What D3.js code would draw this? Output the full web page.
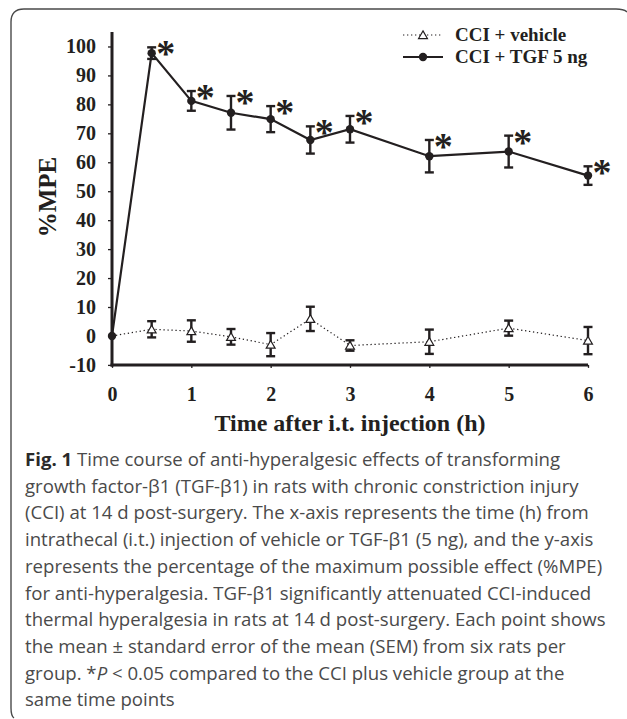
<!DOCTYPE html>
<html><head><meta charset="utf-8">
<script src="https://cdn.jsdelivr.net/npm/d3@7"></script>
<style>
body{margin:0;background:#fff;}
svg{display:block;}
</style></head><body>
<svg id="c" width="627" height="719"></svg>
<script>
const times = [0, 0.5, 1, 1.5, 2, 2.5, 3, 4, 5, 6];
const vehicleMean = [0, 2.3, 1.7, -0.3, -3.0, 5.9, -3.3, -2.0, 2.7, -1.6];
const vehicleSem  = [0, 2.8, 3.7, 2.7, 4.0, 4.2, 1.8, 4.2, 2.6, 4.7];
const tgfMean = [0, 97.7, 81.2, 77.1, 74.9, 67.7, 71.4, 62.1, 63.7, 55.4];
const tgfSem  = [0, 2.0, 3.4, 5.8, 4.5, 4.7, 4.6, 5.6, 5.5, 3.2];
const signif  = [false, true, true, true, true, true, true, true, true, true];
const xTicks = [0, 1, 2, 3, 4, 5, 6];
const yTicks = [-10, 0, 10, 20, 30, 40, 50, 60, 70, 80, 90, 100];
const legendLabels = ["CCI + vehicle", "CCI + TGF 5 ng"];
const captionBold = "Fig. 1";
const captionLines = [
 " Time course of anti-hyperalgesic effects of transforming",
 "growth factor-β1 (TGF-β1) in rats with chronic constriction injury",
 "(CCI) at 14 d post-surgery. The x-axis represents the time (h) from",
 "intrathecal (i.t.) injection of vehicle or TGF-β1 (5 ng), and the y-axis",
 "represents the percentage of the maximum possible effect (%MPE)",
 "for anti-hyperalgesia. TGF-β1 significantly attenuated CCI-induced",
 "thermal hyperalgesia in rats at 14 d post-surgery. Each point shows",
 "the mean ± standard error of the mean (SEM) from six rats per",
 "group. *P < 0.05 compared to the CCI plus vehicle group at the",
 "same time points"
];

const svg = d3.select("#c");
const ink = "#231f20";
const serif = "'Liberation Serif','Times New Roman',serif";

// frame
svg.append("path")
  .attr("d", "M14,718 Q11,716 11,708 L11,22 Q11,9 24,9 L616,9 Q624,9 627,12")
  .attr("fill","none").attr("stroke","#4a4a4a").attr("stroke-width",1.4);

const x = d3.scaleLinear().domain([0, 6]).range([112, 588]);
const y = d3.scaleLinear().domain([-10, 105]).range([364.9, 32]);

const fmt = d => String(d); // plain hyphen-minus like the reference

// axes
const xAxis = svg.append("g").attr("transform", `translate(0,${y(-10)})`)
  .call(d3.axisBottom(x).tickValues(xTicks).tickSize(3).tickSizeOuter(0).tickPadding(19).tickFormat(fmt));
const yAxis = svg.append("g").attr("transform", `translate(${x(0)},0)`)
  .call(d3.axisLeft(y).tickValues(yTicks).tickSize(4).tickSizeOuter(0).tickPadding(12).tickFormat(fmt));
[xAxis, yAxis].forEach(g => {
  g.select(".domain").attr("stroke", ink).attr("stroke-width", 3);
  g.selectAll(".tick line").attr("stroke", ink).attr("stroke-width", 1.3);
  g.selectAll(".tick text").attr("fill", ink).style("font-family", serif)
   .style("font-weight","bold").style("font-size","20px");
});
yAxis.select(".domain").attr("d", `M0,${y(105)}V${y(-10)+1.5}`);
xAxis.select(".domain").attr("d", `M${x(0)-1.5},0H${x(6)}`);

// axis titles
svg.append("text").attr("transform", `translate(56,${y(48)}) rotate(-90)`)
  .attr("text-anchor","middle").attr("fill",ink)
  .style("font-family",serif).style("font-weight","bold").style("font-size","25px")
  .text("%MPE");
svg.append("text").attr("x", 350).attr("y", 431).attr("text-anchor","middle").attr("fill",ink)
  .style("font-family",serif).style("font-weight","bold").style("font-size","24px")
  .text("Time after i.t. injection (h)");

const veh = times.map((t,i)=>({t, m: vehicleMean[i], s: vehicleSem[i]}));
const tgf = times.map((t,i)=>({t, m: tgfMean[i], s: tgfSem[i], sig: signif[i]}));

const line = d3.line().x(d=>x(d.t)).y(d=>y(d.m));

// vehicle line
svg.append("path").datum(veh).attr("d", line).attr("fill","none")
  .attr("stroke", ink).attr("stroke-width",1.2).attr("stroke-dasharray","1.3,2.7");
// tgf line
svg.append("path").datum(tgf).attr("d", line).attr("fill","none")
  .attr("stroke", ink).attr("stroke-width",2.2);

function errBars(data){
  const g = svg.append("g").attr("stroke", ink).attr("stroke-width",2.4);
  data.filter(d=>d.s>0).forEach(d=>{
    const cx = x(d.t), t = y(d.m + d.s), b = y(d.m - d.s);
    g.append("line").attr("x1",cx).attr("x2",cx).attr("y1",t).attr("y2",b);
    g.append("line").attr("x1",cx-4.5).attr("x2",cx+4.5).attr("y1",t).attr("y2",t);
    g.append("line").attr("x1",cx-4.5).attr("x2",cx+4.5).attr("y1",b).attr("y2",b);
  });
}
errBars(veh);
errBars(tgf);

const tri = d3.symbol().type(d3.symbolTriangle).size(34);
svg.append("g").selectAll("path").data(veh.slice(1)).join("path")
  .attr("d", tri).attr("transform", d=>`translate(${x(d.t)},${y(d.m)+1})`)
  .attr("fill","#fff").attr("stroke",ink).attr("stroke-width",1.2);

svg.append("g").selectAll("circle").data(tgf).join("circle")
  .attr("cx", d=>x(d.t)).attr("cy", d=>y(d.m)).attr("r",4.2).attr("fill",ink);

// asterisks
svg.append("g").selectAll("text").data(tgf.filter(d=>d.sig)).join("text")
  .attr("x", d=>x(d.t)+14).attr("y", d=>y(d.m+d.s)+19)
  .attr("text-anchor","middle").attr("fill",ink)
  .style("font-family",serif).style("font-weight","bold").style("font-size","38px")
  .text("*");

// legend
const lg = svg.append("g");
const ly = [35, 57];
lg.append("line").attr("x1",403).attr("x2",443).attr("y1",ly[0]).attr("y2",ly[0])
  .attr("stroke",ink).attr("stroke-width",1.2).attr("stroke-dasharray","1.3,2.7");
lg.append("path").attr("d", tri).attr("transform",`translate(423,${ly[0]+1})`)
  .attr("fill","#fff").attr("stroke",ink).attr("stroke-width",1.2);
lg.append("line").attr("x1",403).attr("x2",443).attr("y1",ly[1]).attr("y2",ly[1])
  .attr("stroke",ink).attr("stroke-width",2.2);
lg.append("circle").attr("cx",423).attr("cy",ly[1]).attr("r",4.2).attr("fill",ink);
legendLabels.forEach((l,i)=>{
  lg.append("text").attr("x",455).attr("y",ly[i]+6).attr("fill",ink)
    .style("font-family",serif).style("font-weight","bold").style("font-size","19px").text(l);
});

// caption
const cap = svg.append("g").style("font-family","'Open Sans','Noto Sans',sans-serif")
  .style("font-size","18.6px").attr("fill","#4a4a4a");
captionLines.forEach((l,i)=>{
  const t = cap.append("text").attr("x",25).attr("y",466 + i*26.7);
  if(i===0){
    t.append("tspan").style("font-weight","bold").attr("fill","#2a2a2a").text(captionBold);
    t.append("tspan").text(l);
  } else if (l.startsWith("group. *P")) {
    t.append("tspan").text("group. *");
    t.append("tspan").style("font-style","italic").text("P");
    t.append("tspan").text(l.slice("group. *P".length));
  } else {
    t.text(l);
  }
});
</script>
</body></html>
